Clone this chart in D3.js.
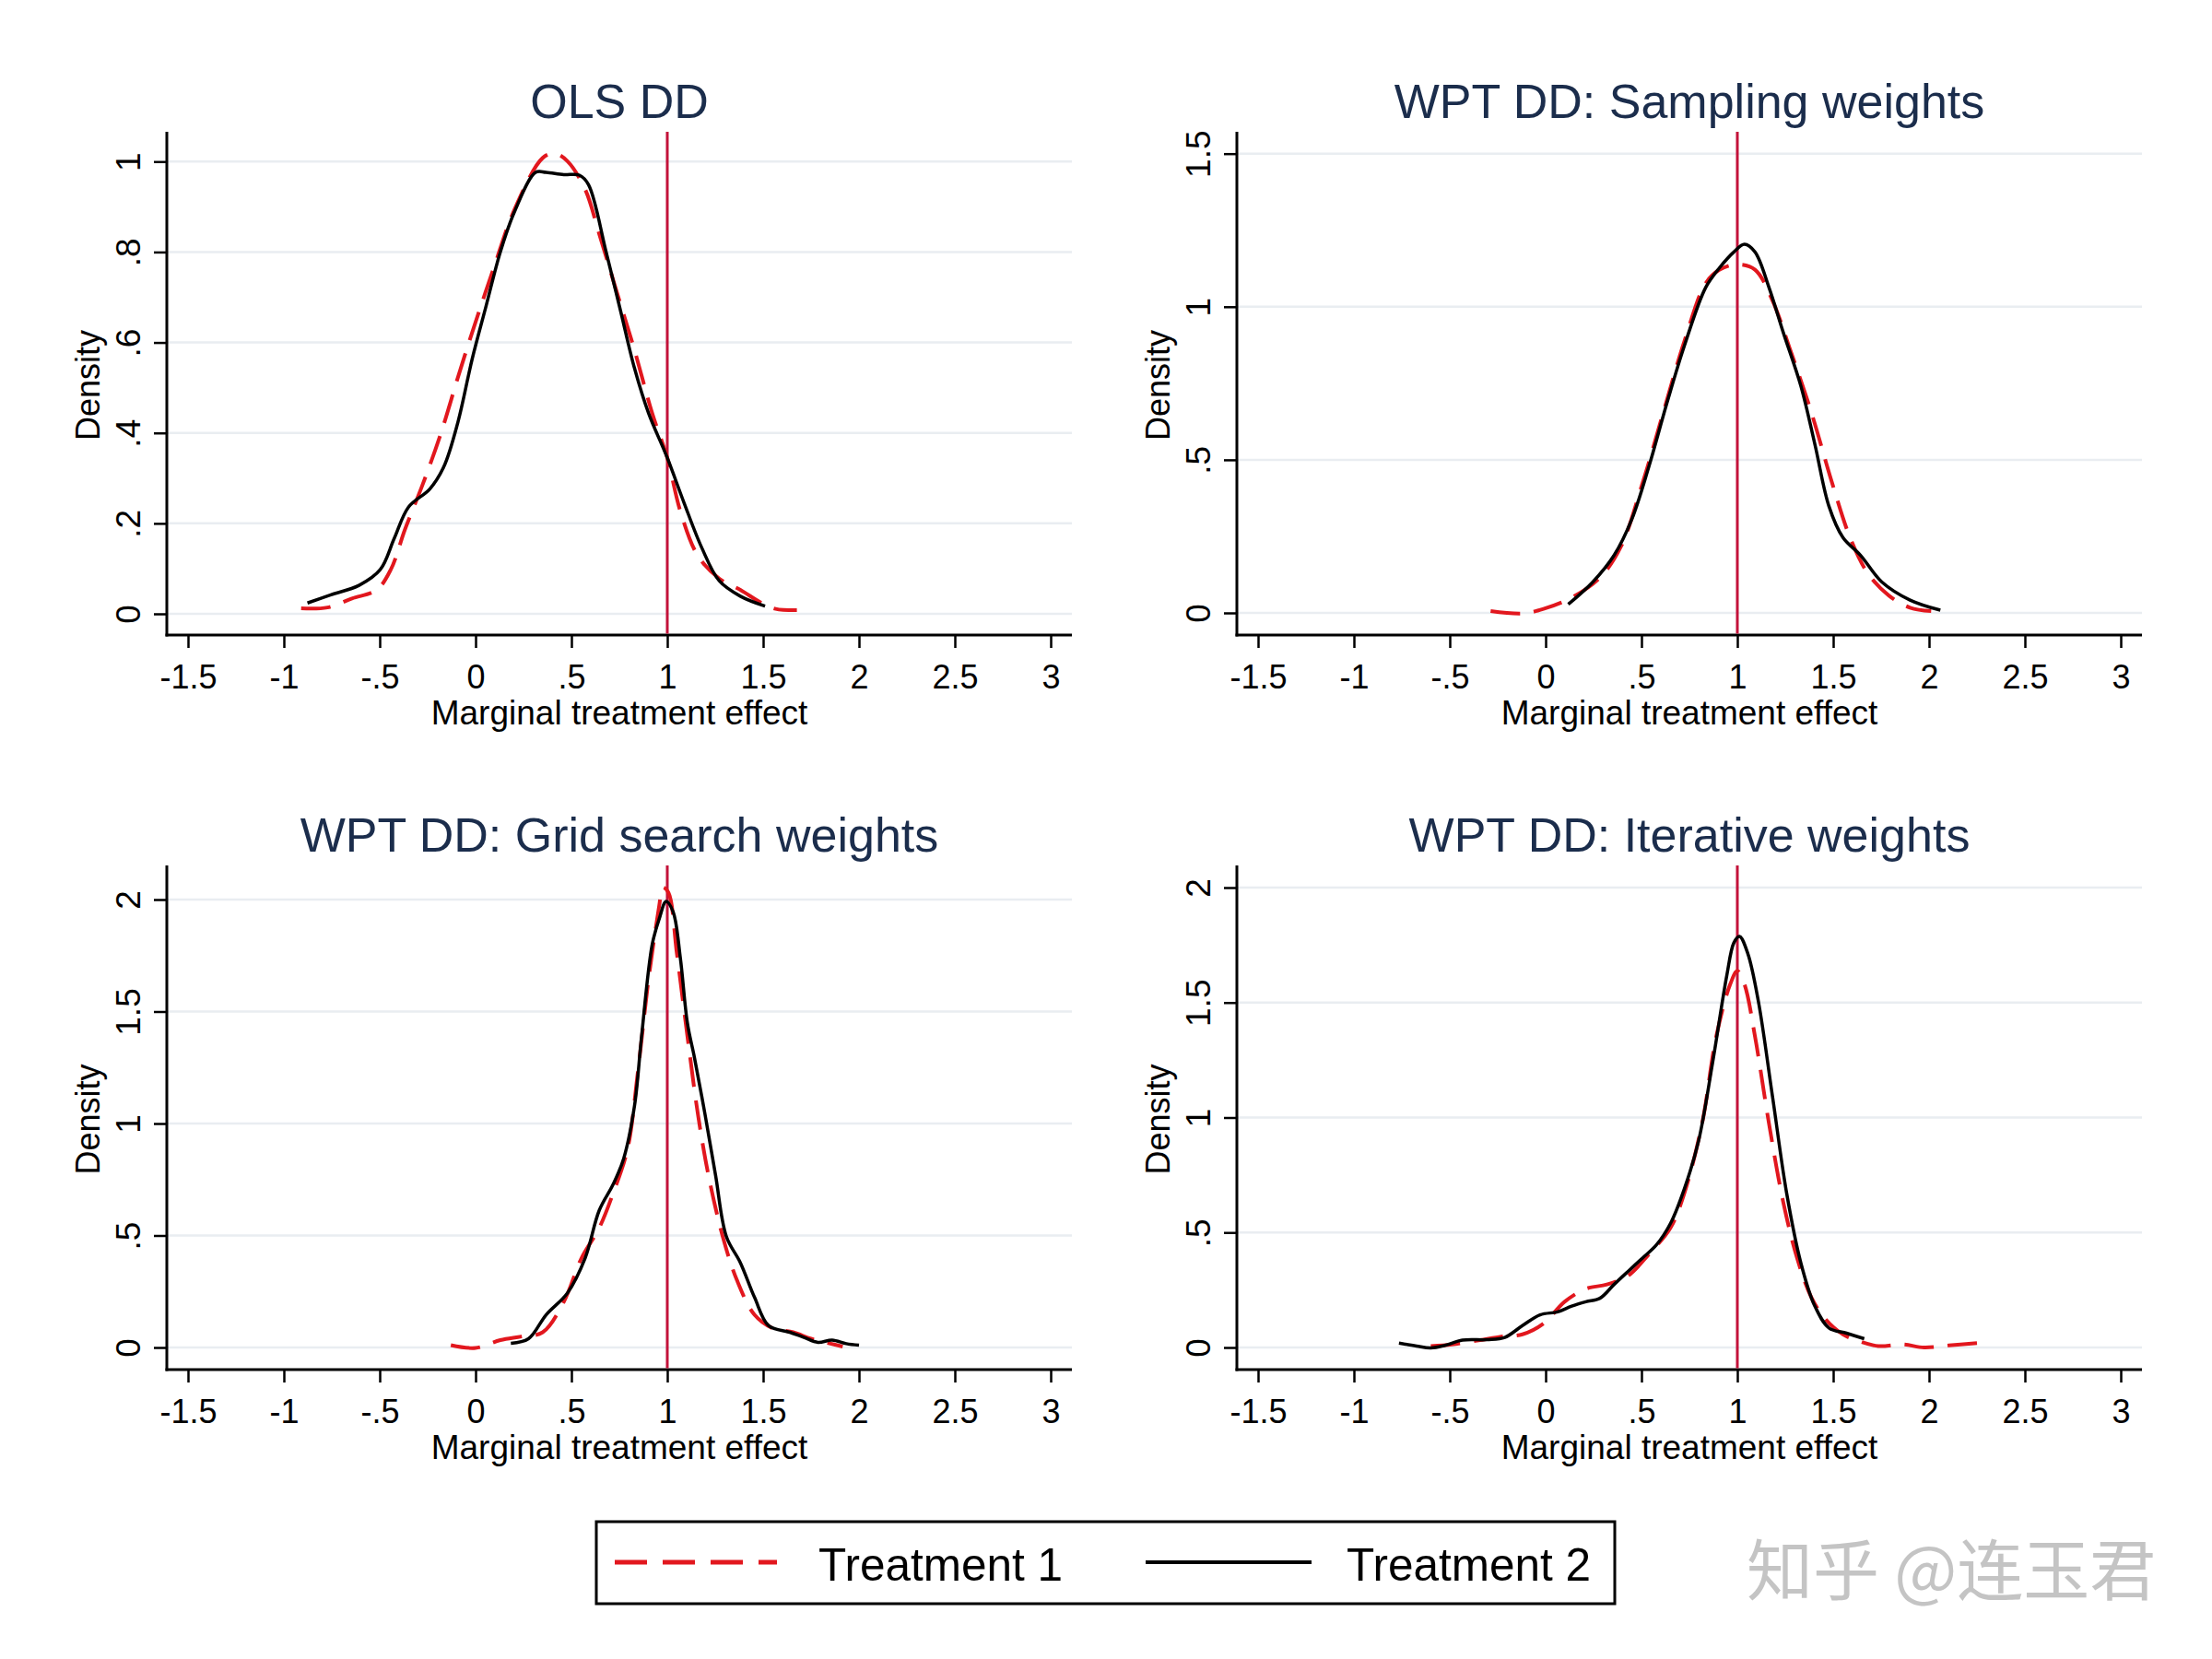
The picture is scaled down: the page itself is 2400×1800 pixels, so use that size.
<!DOCTYPE html>
<html><head><meta charset="utf-8">
<script src="https://cdn.jsdelivr.net/npm/d3@7"></script>
<style>body{margin:0;background:#fff} svg{display:block}</style>
</head><body><svg id="c" width="2400" height="1800"></svg>
<script>
// ---------- data ----------
const panelTitles = ["OLS DD", "WPT DD: Sampling weights", "WPT DD: Grid search weights", "WPT DD: Iterative weights"];
const xTickValues = [-1.5, -1, -0.5, 0, 0.5, 1, 1.5, 2, 2.5, 3];
const xTickLabels = ["-1.5", "-1", "-.5", "0", ".5", "1", "1.5", "2", "2.5", "3"];
const yTicksOLS = [0, 0.2, 0.4, 0.6, 0.8, 1];
const yLabelsOLS = ["0", ".2", ".4", ".6", ".8", "1"];
const yTicksSampling = [0, 0.5, 1, 1.5];
const yLabelsSampling = ["0", ".5", "1", "1.5"];
const yTicksGrid = [0, 0.5, 1, 1.5, 2];
const yLabelsGrid = ["0", ".5", "1", "1.5", "2"];
const yTicksIter = [0, 0.5, 1, 1.5, 2];
const yLabelsIter = ["0", ".5", "1", "1.5", "2"];
const trueEffect = 1;
const seriesNames = ["Treatment 1", "Treatment 2"];
const xAxisTitle = "Marginal treatment effect";
const yAxisTitle = "Density";

// density curves: [x, density]
const olsT1 = [[-0.910,0.012],[-0.773,0.014],[-0.645,0.034],[-0.516,0.053],[-0.442,0.098],[-0.368,0.187],[-0.276,0.286],[-0.184,0.395],[-0.092,0.523],[-0.018,0.622],[0.092,0.761],[0.203,0.894],[0.350,1.008],[0.413,1.018],[0.479,1.001],[0.571,0.939],[0.645,0.840],[0.737,0.711],[0.829,0.583],[0.921,0.444],[1.0,0.345],[1.068,0.227],[1.160,0.128],[1.271,0.078],[1.381,0.053],[1.492,0.024],[1.565,0.011],[1.676,0.008]];
const olsT2 = [[-0.877,0.024],[-0.755,0.042],[-0.608,0.063],[-0.497,0.098],[-0.424,0.167],[-0.350,0.236],[-0.239,0.276],[-0.166,0.325],[-0.092,0.424],[-0.018,0.563],[0.055,0.681],[0.129,0.800],[0.203,0.889],[0.313,0.976],[0.368,0.976],[0.460,0.971],[0.541,0.970],[0.589,0.949],[0.681,0.800],[0.755,0.672],[0.829,0.543],[0.902,0.444],[1.0,0.345],[1.087,0.246],[1.179,0.147],[1.271,0.073],[1.381,0.039],[1.510,0.017]];
const samplingT1 = [[-0.287,0.006],[-0.121,-0.002],[-0.011,0.013],[0.136,0.050],[0.283,0.115],[0.393,0.217],[0.504,0.421],[0.614,0.655],[0.724,0.888],[0.835,1.077],[0.908,1.121],[1.0,1.138],[1.092,1.121],[1.184,1.019],[1.276,0.859],[1.386,0.655],[1.496,0.421],[1.588,0.246],[1.680,0.130],[1.790,0.057],[1.901,0.017],[2.011,0.006]];
const samplingT2 = [[0.118,0.028],[0.246,0.101],[0.357,0.188],[0.449,0.305],[0.540,0.481],[0.632,0.684],[0.724,0.873],[0.835,1.063],[0.908,1.128],[0.982,1.179],[1.037,1.204],[1.092,1.179],[1.165,1.063],[1.239,0.917],[1.331,0.742],[1.404,0.552],[1.478,0.348],[1.551,0.246],[1.643,0.188],[1.754,0.101],[1.901,0.042],[2.059,0.009]];
const gridT1 = [[-0.129,0.010],[0.0,-0.002],[0.129,0.033],[0.239,0.049],[0.350,0.068],[0.460,0.204],[0.552,0.398],[0.645,0.534],[0.718,0.690],[0.792,0.884],[0.847,1.234],[0.902,1.642],[0.958,1.973],[0.976,2.054],[1.006,2.031],[1.050,1.759],[1.105,1.390],[1.160,1.040],[1.215,0.768],[1.289,0.496],[1.363,0.301],[1.455,0.146],[1.547,0.087],[1.657,0.068],[1.750,0.039],[1.842,0.019],[1.915,0.004]];
const gridT2 = [[0.184,0.019],[0.276,0.039],[0.368,0.146],[0.479,0.243],[0.571,0.398],[0.645,0.612],[0.718,0.729],[0.773,0.845],[0.829,1.079],[0.866,1.390],[0.921,1.798],[0.958,1.914],[0.994,1.992],[1.031,1.944],[1.068,1.740],[1.105,1.448],[1.142,1.293],[1.197,1.040],[1.252,0.768],[1.308,0.496],[1.381,0.379],[1.455,0.224],[1.529,0.097],[1.639,0.068],[1.713,0.045],[1.786,0.023],[1.860,0.033],[1.934,0.017],[2.0,0.010]];
const iterT1 = [[-0.599,0.006],[-0.489,0.013],[-0.342,0.032],[-0.232,0.047],[-0.121,0.057],[-0.011,0.104],[0.099,0.199],[0.210,0.255],[0.320,0.274],[0.430,0.312],[0.540,0.407],[0.651,0.520],[0.724,0.672],[0.816,0.974],[0.890,1.353],[0.963,1.580],[1.0,1.637],[1.037,1.580],[1.092,1.353],[1.165,0.974],[1.239,0.634],[1.312,0.388],[1.386,0.218],[1.460,0.123],[1.551,0.057],[1.643,0.025],[1.735,0.006],[1.864,0.013],[1.974,0.0],[2.103,0.009],[2.250,0.019]];
const iterT2 = [[-0.765,0.019],[-0.673,0.006],[-0.599,-0.002],[-0.526,0.009],[-0.434,0.032],[-0.305,0.034],[-0.213,0.044],[-0.121,0.095],[-0.029,0.142],[0.063,0.155],[0.136,0.180],[0.210,0.199],[0.283,0.214],[0.357,0.274],[0.430,0.331],[0.504,0.388],[0.577,0.445],[0.651,0.539],[0.724,0.691],[0.798,0.899],[0.871,1.239],[0.945,1.618],[0.982,1.760],[1.011,1.788],[1.055,1.712],[1.110,1.504],[1.184,1.088],[1.257,0.672],[1.331,0.369],[1.404,0.180],[1.478,0.085],[1.570,0.062],[1.662,0.038]];

// ---------- layout ----------
const panels = [
  {title: panelTitles[0], yTicks: yTicksOLS, yLabels: yLabelsOLS, t1: olsT1, t2: olsT2,
   left: 181, right: 1163, top: 143, bottom: 689, xpx: [204, 1140], y0px: 666, yRefPx: 175.3},
  {title: panelTitles[1], yTicks: yTicksSampling, yLabels: yLabelsSampling, t1: samplingT1, t2: samplingT2,
   left: 1342, right: 2324, top: 143, bottom: 689, xpx: [1365, 2301], y0px: 665, yRefPx: 166.7},
  {title: panelTitles[2], yTicks: yTicksGrid, yLabels: yLabelsGrid, t1: gridT1, t2: gridT2,
   left: 181, right: 1163, top: 939, bottom: 1486, xpx: [204, 1140], y0px: 1462, yRefPx: 976},
  {title: panelTitles[3], yTicks: yTicksIter, yLabels: yLabelsIter, t1: iterT1, t2: iterT2,
   left: 1342, right: 2324, top: 939, bottom: 1486, xpx: [1365, 2301], y0px: 1462, yRefPx: 963}
];

const FONT = "'Liberation Sans', Arial, sans-serif";
const RED = "#e2171e", LINECOL = "#c3123a", GRID = "#e9edf1", TITLECOL = "#1b2d4c";
const svg = d3.select("#c");

panels.forEach(p => {
  const g = svg.append("g");
  const x = d3.scaleLinear().domain([xTickValues[0], xTickValues[xTickValues.length - 1]]).range(p.xpx);
  const yMaxTick = p.yTicks[p.yTicks.length - 1];
  const y = d3.scaleLinear().domain([0, yMaxTick]).range([p.y0px, p.yRefPx]);

  // gridlines
  g.selectAll(".grid").data(p.yTicks).enter().append("line")
    .attr("x1", p.left).attr("x2", p.right)
    .attr("y1", d => y(d)).attr("y2", d => y(d))
    .attr("stroke", GRID).attr("stroke-width", 2.5);

  // x axis
  const xa = g.append("g").attr("transform", `translate(0,${p.bottom})`)
    .call(d3.axisBottom(x).tickValues(xTickValues).tickSize(14).tickPadding(10)
      .tickFormat((d, i) => xTickLabels[i]));
  xa.select(".domain").remove();
  xa.selectAll(".tick line").attr("stroke", "#000").attr("stroke-width", 2.5);
  xa.selectAll(".tick text").attr("font-family", FONT).attr("font-size", 36).attr("fill", "#000")
    .attr("dy", null).attr("y", 58);
  g.append("line").attr("x1", p.left - 1.5).attr("x2", p.right).attr("y1", p.bottom).attr("y2", p.bottom)
    .attr("stroke", "#000").attr("stroke-width", 3);

  // y axis
  const ya = g.append("g").attr("transform", `translate(${p.left},0)`)
    .call(d3.axisLeft(y).tickValues(p.yTicks).tickSize(14).tickFormat((d, i) => p.yLabels[i]));
  ya.select(".domain").remove();
  ya.selectAll(".tick line").attr("stroke", "#000").attr("stroke-width", 2.5);
  ya.selectAll(".tick text").attr("font-family", FONT).attr("font-size", 37).attr("fill", "#000")
    .attr("x", null).attr("dy", null).attr("text-anchor", "middle")
    .attr("transform", "translate(-29,0) rotate(-90)");
  g.append("line").attr("x1", p.left).attr("x2", p.left).attr("y1", p.top).attr("y2", p.bottom + 1.5)
    .attr("stroke", "#000").attr("stroke-width", 3);

  // reference line at true effect
  g.append("line").attr("x1", x(trueEffect)).attr("x2", x(trueEffect))
    .attr("y1", p.top).attr("y2", p.bottom - 1.5)
    .attr("stroke", LINECOL).attr("stroke-width", 3);

  const line = d3.line().x(d => x(d[0])).y(d => y(d[1])).curve(d3.curveCatmullRom.alpha(0.5));
  g.append("path").datum(p.t1).attr("d", line).attr("fill", "none")
    .attr("stroke", RED).attr("stroke-width", 4).attr("stroke-dasharray", "32,15");
  g.append("path").datum(p.t2).attr("d", line).attr("fill", "none")
    .attr("stroke", "#000").attr("stroke-width", 3.5).attr("stroke-linejoin", "round");

  // titles
  const cx = (p.left + p.right) / 2;
  g.append("text").attr("x", cx).attr("y", p.top - 15).attr("text-anchor", "middle")
    .attr("font-family", FONT).attr("font-size", 52).attr("fill", TITLECOL).text(p.title);
  g.append("text").attr("x", cx).attr("y", p.bottom + 97).attr("text-anchor", "middle")
    .attr("font-family", FONT).attr("font-size", 37).attr("fill", "#000").text(xAxisTitle);
  g.append("text").attr("transform", `translate(${p.left - 73},${(p.top + p.bottom) / 2 + 2}) rotate(-90)`)
    .attr("text-anchor", "middle").attr("font-family", FONT).attr("font-size", 36).attr("fill", "#000")
    .text(yAxisTitle);
});

// legend
const lg = svg.append("g");
lg.append("rect").attr("x", 647).attr("y", 1651).attr("width", 1105).attr("height", 89)
  .attr("fill", "#fff").attr("stroke", "#000").attr("stroke-width", 3);
lg.append("line").attr("x1", 667).attr("x2", 843).attr("y1", 1695).attr("y2", 1695)
  .attr("stroke", RED).attr("stroke-width", 5).attr("stroke-dasharray", "35,17");
lg.append("text").attr("x", 888).attr("y", 1715).attr("font-family", FONT).attr("font-size", 49.5)
  .attr("fill", "#000").text(seriesNames[0]);
lg.append("line").attr("x1", 1243).attr("x2", 1423).attr("y1", 1695).attr("y2", 1695)
  .attr("stroke", "#000").attr("stroke-width", 4);
lg.append("text").attr("x", 1461).attr("y", 1715).attr("font-family", FONT).attr("font-size", 49.5)
  .attr("fill", "#000").text(seriesNames[1]);

// watermark
svg.append("text").attr("x", 1895).attr("y", 1730)
  .attr("font-family", "'Noto Sans CJK SC', sans-serif").attr("font-size", 72)
  .attr("fill", "#c4c4c4").text("知乎 @连玉君");
</script></body></html>
